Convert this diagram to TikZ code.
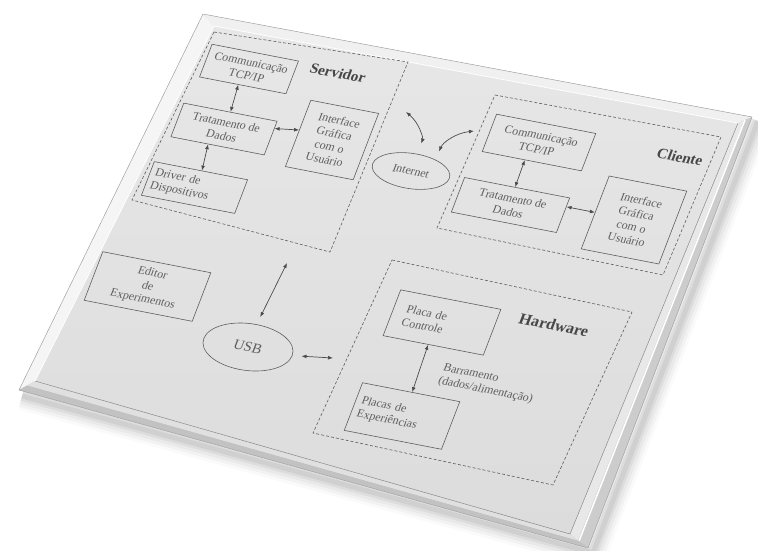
\documentclass[tikz,border=0pt]{standalone}
\usepackage{fontspec}
\setmainfont{Liberation Serif}
\usetikzlibrary{arrows.meta,calc,shapes.geometric}

\definecolor{ink}{HTML}{5E5E5E}
\definecolor{labelink}{HTML}{474747}
\definecolor{facetop}{HTML}{E7E7E7}
\definecolor{facebot}{HTML}{DCDCDC}

\tikzset{
  facecm/.style={cm={0.982,-0.191,0.358,0.934,(0,0)}},
  boxtext/.style={font=\fontsize{11.8}{14}\selectfont, text=ink},
  box/.style={boxtext, draw=ink, line width=0.6pt, rectangle, transform shape, align=center, inner sep=1pt},
  lbox/.style={box, align=left, text width=#1},
  oval/.style={boxtext, draw=ink, line width=0.6pt, ellipse, transform shape, inner sep=0pt},
  grouplabel/.style={transform shape, text=labelink, font=\bfseries\fontsize{15}{17}\selectfont},
  plaintext/.style={boxtext, transform shape, align=left, inner sep=0pt},
  groupframe/.style={draw=ink, line width=0.6pt, dash pattern=on 3pt off 2pt},
  link/.style={draw=ink!80!black, line width=0.7pt, <->, >={Latex[length=5pt,width=3.8pt]}},
}
% place the content of #3 at pixel point (#1,#2) in the tilted plane of the board
\newcommand\onface[3]{\begin{scope}[shift={(#1,-#2)},facecm]#3\end{scope}}

\begin{document}
\begin{tikzpicture}[x=1pt,y=1pt]
\useasboundingbox (0,0) rectangle (758,-550);

% ---------- the board ----------
\coordinate (oTL) at (203,-14);
\coordinate (oTR) at (752,-117);
\coordinate (oBR) at (588,-548);
\coordinate (oBL) at (19,-390);
\coordinate (fTL) at (214,-26);
\coordinate (fTR) at (738,-123);
\coordinate (fBR) at (570,-534);
\coordinate (fBL) at (35,-381);

% soft shadow
\foreach \lw/\op in {28pt/0.02,22pt/0.03,16pt/0.04,10pt/0.05,5pt/0.06}
  \draw[line width=\lw, opacity=\op, line join=round]
    ([shift={(6,-4)}]oTR) -- ([shift={(5,-5)}]oBR) -- ([shift={(3,-6)}]oBL);

\fill[black!22] (oTL)--(oTR)--(oBR)--(oBL)--cycle;
% bevels
\fill[black!4] (oTL)--(oBL)--(fBL)--(fTL)--cycle;
\fill[black!6] (oTL)--(oTR)--(fTR)--(fTL)--cycle;
\coordinate (rA1) at ($(fTR)!0.45!(oTR)$);
\coordinate (rA2) at ($(fBR)!0.45!(oBR)$);
\fill[black!9] (fTR)--(rA1)--(rA2)--(fBR)--cycle;
\fill[black!20] (rA1)--(oTR)--(oBR)--(rA2)--cycle;
\draw[white, line width=1.5pt] ($(fTR)!0.5!(oTR)$) -- ($(fBR)!0.5!(oBR)$);
\coordinate (bA1) at ($(fBL)!0.5!(oBL)$);
\coordinate (bA2) at ($(fBR)!0.5!(oBR)$);
\fill[black!12] (fBL)--(fBR)--(bA2)--(bA1)--cycle;
\fill[black!24] (bA1)--(bA2)--(oBR)--(oBL)--cycle;
% face
\shade[top color=facetop, bottom color=facebot] (fTL)--(fTR)--(fBR)--(fBL)--cycle;
\draw[black!45, line width=0.5pt] (fTR)--(fBR)--(fBL);
\draw[white, line width=0.8pt] (fBL)--(fTL)--(fTR);
\draw[black!35, line width=0.5pt] (oTL)--(oTR)--(oBR)--(oBL)--cycle;

% ---------- Servidor ----------
\coordinate (sv1) at (214,-32);
\coordinate (sv2) at (408,-62);
\coordinate (sv3) at (330,-252);
\coordinate (sv4) at (132,-200);
\draw[groupframe] (sv1)--(sv2)--(sv3)--(sv4)--cycle;
\onface{338}{73}{\node[grouplabel] (svlabel) {Servidor};}
\onface{249}{69}{\node[box, minimum width=88pt, minimum height=35pt] (tcpS) {Communicação\\TCP/IP};}
\onface{224}{129}{\node[box, minimum width=95pt, minimum height=36pt] (tratS) {Tratamento de\\Dados};}
\onface{332}{140}{\node[box, minimum width=69pt, minimum height=71pt] (guiS) {Interface\\Gráfica\\com o\\Usuário};}
\onface{194.5}{187.5}{\node[lbox=85pt, minimum width=95pt, minimum height=36pt] (drvS) {Driver de\\Dispositivos};}

\draw[link] ($(tcpS.south west)!0.45!(tcpS.south east)$) -- ($(tratS.north west)!0.5!(tratS.north east)$);
\draw[link] ($(tratS.north east)!0.22!(tratS.south east)$) -- ($(guiS.north west)!0.45!(guiS.south west)$);
\draw[link] ($(tratS.south west)!0.4!(tratS.south east)$) -- ($(drvS.north west)!0.51!(drvS.north east)$);

% ---------- Internet ----------
\onface{411}{171}{\node[oval, minimum width=78pt, minimum height=36pt] (inet) {Internet};}
\coordinate (svport) at (406,-112);
\coordinate (clport) at (474,-131);
\draw[link, shorten >=11pt] (svport) to[bend left=35] (inet.north);
\draw[link, shorten <=9pt] (inet.40) to[bend left=30] (clport);

% ---------- Cliente ----------
\coordinate (cl1) at (495,-95);
\coordinate (cl2) at (721,-137);
\coordinate (cl3) at (663,-275);
\coordinate (cl4) at (437,-228);
\draw[groupframe] (cl1)--(cl2)--(cl3)--(cl4)--cycle;
\onface{680}{157}{\node[grouplabel] (cllabel) {Cliente};}
\onface{539}{142.5}{\node[box, minimum width=101pt, minimum height=40pt] (tcpC) {Communicação\\TCP/IP};}
\onface{510.5}{205}{\node[box, minimum width=107pt, minimum height=37pt] (tratC) {Tratamento de\\Dados};}
\onface{634}{220}{\node[box, minimum width=79pt, minimum height=78pt] (guiC) {Interface\\Gráfica\\com o\\Usuário};}

\draw[link] ($(tcpC.south west)!0.43!(tcpC.south east)$) -- ($(tratC.north west)!0.48!(tratC.north east)$);
\draw[link] ($(tratC.north east)!0.26!(tratC.south east)$) -- ($(guiC.north west)!0.5!(guiC.south west)$);

% ---------- Editor and USB ----------
\onface{147.5}{286.5}{\node[box, minimum width=110pt, minimum height=52pt] (editor) {Editor\\de\\Experimentos};}
\onface{248}{347}{\node[oval, minimum width=90pt, minimum height=48pt, font=\fontsize{14.5}{16}\selectfont] (usb) {USB};}
\coordinate (usbport) at (287,-263);
\coordinate (hwport) at (333,-358);
\draw[link, shorten >=8pt] (usbport) -- (usb.north);
\draw[link, shorten <=9pt] (usb.east) -- (hwport);

% ---------- Hardware ----------
\coordinate (hw1) at (392,-260);
\coordinate (hw2) at (632,-312);
\coordinate (hw3) at (553,-485);
\coordinate (hw4) at (313,-433);
\draw[groupframe] (hw1)--(hw2)--(hw3)--(hw4)--cycle;
\onface{554}{325}{\node[grouplabel, font=\bfseries\fontsize{16}{18}\selectfont] (hwlabel) {Hardware};}
\onface{442}{322.5}{\node[lbox=76pt, minimum width=102pt, minimum height=49pt] (ctrl) {Placa de\\Controle};}
\onface{402}{416}{\node[lbox=87pt, minimum width=99pt, minimum height=51pt] (exp) {Placas de\\Experiências};}
\onface{488}{384}{\node[plaintext] (bus) {Barramento\\(dados/alimentação)};}
\draw[link] ($(ctrl.south west)!0.45!(ctrl.south east)$) -- ($(exp.north west)!0.51!(exp.north east)$);

\end{tikzpicture}
\end{document}
